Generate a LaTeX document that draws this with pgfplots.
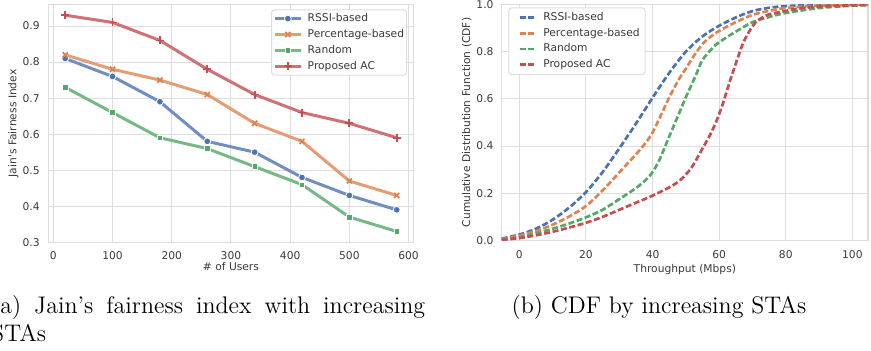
\documentclass[border=0pt]{standalone}
\usepackage{fontspec}
\newfontfamily\dejavu{DejaVu Sans}
\usepackage{pgfplots}
\pgfplotsset{compat=1.18}
\definecolor{cblue}{HTML}{4C72B0}
\definecolor{corange}{HTML}{DD8452}
\definecolor{cgreen}{HTML}{55A868}
\definecolor{cred}{HTML}{C44E52}
\definecolor{gridc}{HTML}{DDDDDD}
\definecolor{txt}{HTML}{3A3A3A}
\newcommand\pf{\dejavu\fontsize{5.35}{6.4}\selectfont}
\pgfplotsset{
  sb/.style={
    scale only axis,
    axis line style={gridc, line width=0.6pt},
    grid=major, major grid style={gridc, line width=0.5pt},
    major tick length=0pt, tick style={draw=none},
    tick label style={font=\pf, text=txt, inner sep=0pt},
    /pgf/number format/assume math mode=true,
    clip=true,
  }
}
\begin{document}
\begin{tikzpicture}
\path[use as bounding box] (0,0) rectangle (435.5pt,175.5pt);
% ---------------- left plot
\begin{axis}[sb,
  at={(24.3pt,54.35pt)}, anchor=south west,
  width=182.35pt, height=118.95pt,
  xmin=-8, xmax=608, ymin=0.30, ymax=0.96,
  xtick={0,100,200,300,400,500,600},
  ytick={0.3,0.4,0.5,0.6,0.7,0.8,0.9},
  yticklabel style={anchor=east, xshift=-4.3pt, /pgf/number format/.cd, fixed, fixed zerofill, precision=1},
  xticklabel style={anchor=north, yshift=-4.4pt},
  every axis x label/.style={at={([yshift=-12.2pt]axis description cs:0.5,0)}, anchor=center, font=\pf, text=txt},
  every axis y label/.style={at={([xshift=-17.65pt]axis description cs:0,0.5)}, rotate=90, anchor=center, font=\pf, text=txt},
  xlabel={\# of Users},
  ylabel={Jain\textquotesingle s Fairness Index},
  legend image code/.code={\draw[sharp corners,mark repeat=2,mark phase=2,#1] plot coordinates {(0pt,0pt) (6.5pt,0pt) (13pt,0pt)};},
  legend style={font=\pf, text=txt, draw=gridc, line width=0.5pt, fill=white, rounded corners=1.5pt,
    at={(1,1)}, anchor=north east, xshift=-3.15pt, yshift=-2.45pt,
    inner xsep=0.9pt, inner ysep=0.45pt, row sep=0pt,
    nodes={inner xsep=0.3pt, inner ysep=1.27pt, text height=4.2pt, text depth=1.2pt, anchor=west},
    /tikz/every odd column/.append style={column sep=2.4pt}},
  legend cell align=left,
]
\addplot[color=cblue!80!white, line width=1.5pt, mark=*, mark size=1.7pt, mark options={fill=cblue, draw=white, line width=0.4pt}]
  coordinates {(20,0.81) (100,0.76) (180,0.69) (260,0.58) (340,0.55) (420,0.48) (500,0.43) (580,0.39)};
\addlegendentry{RSSI-based}
\addplot[color=corange!80!white, line width=1.5pt, mark=x, mark size=1.8pt, mark options={draw=corange, line width=0.9pt}]
  coordinates {(20,0.82) (100,0.78) (180,0.75) (260,0.71) (340,0.63) (420,0.58) (500,0.47) (580,0.43)};
\addlegendentry{Percentage-based}
\addplot[color=cgreen!80!white, line width=1.5pt, mark=square*, mark size=1.4pt, mark options={fill=cgreen, draw=white, line width=0.3pt}]
  coordinates {(20,0.73) (100,0.66) (180,0.59) (260,0.56) (340,0.51) (420,0.46) (500,0.37) (580,0.33)};
\addlegendentry{Random}
\addplot[color=cred!80!white, line width=1.5pt, mark=+, mark size=2pt, mark options={draw=cred, line width=0.9pt}]
  coordinates {(20,0.93) (100,0.91) (180,0.86) (260,0.78) (340,0.71) (420,0.66) (500,0.63) (580,0.59)};
\addlegendentry{Proposed AC}
\end{axis}
% ---------------- right plot
\begin{axis}[sb,
  at={(250.85pt,55.25pt)}, anchor=south west,
  width=183.15pt, height=118pt,
  xmin=-5.3, xmax=104.7, ymin=0, ymax=1.0,
  xtick={0,20,40,60,80,100},
  ytick={0,0.2,0.4,0.6,0.8,1.0},
  yticklabel style={anchor=east, xshift=-3.9pt, /pgf/number format/.cd, fixed, fixed zerofill, precision=1},
  xticklabel style={anchor=north, yshift=-5pt},
  every axis x label/.style={at={([yshift=-14.6pt]axis description cs:0.5,0)}, anchor=center, font=\pf, text=txt},
  every axis y label/.style={at={([xshift=-17.5pt]axis description cs:0,0.5)}, rotate=90, anchor=center, font=\pf, text=txt},
  xlabel={Throughput (Mbps)},
  ylabel={Cumulative Distribution Function (CDF)},
  legend image code/.code={\path (0pt,0pt); \draw[sharp corners,#1] (2.3pt,0pt) -- (9.6pt,0pt);},
  legend style={font=\pf, text=txt, draw=gridc, line width=0.5pt, fill=white, rounded corners=1.5pt,
    at={(0,1)}, anchor=north west, xshift=3.3pt, yshift=-1.4pt,
    inner xsep=2.4pt, inner ysep=1.1pt, row sep=0pt,
    nodes={inner xsep=0.3pt, inner ysep=1.2pt, text height=4.2pt, text depth=1.2pt, anchor=west},
    /tikz/every odd column/.append style={column sep=3.6pt}},
  legend cell align=left,
]
\addplot[color=cblue, line width=1.35pt, dash pattern=on 3pt off 1.3pt, smooth]
  coordinates {(-5.3,0.008) (0,0.025) (5,0.05) (10,0.088) (15,0.14) (20,0.205) (25,0.29) (30,0.39) (35,0.495) (40,0.605) (45,0.71) (50,0.80) (55,0.865) (60,0.91) (65,0.945) (70,0.972) (75,0.986) (80,0.993) (90,0.998) (104.7,1.0)};
\addlegendentry{RSSI-based}
\addplot[color=corange, line width=1.35pt, dash pattern=on 3pt off 1.3pt, smooth]
  coordinates {(-5.3,0.006) (0,0.02) (5,0.04) (10,0.067) (15,0.102) (20,0.146) (25,0.212) (30,0.288) (35,0.365) (38,0.415) (40,0.458) (42.5,0.53) (45,0.606) (48,0.685) (50,0.728) (53,0.795) (56,0.847) (60,0.888) (65,0.925) (70,0.956) (75,0.973) (80,0.985) (90,0.995) (104.7,0.999)};
\addlegendentry{Percentage-based}
\addplot[color=cgreen, line width=1.35pt, dash pattern=on 3pt off 1.3pt, smooth]
  coordinates {(-5.3,0.004) (0,0.014) (5,0.03) (10,0.05) (15,0.072) (20,0.098) (25,0.13) (30,0.175) (35,0.222) (38,0.257) (40,0.29) (42,0.34) (45,0.44) (48,0.54) (50,0.607) (53,0.70) (55,0.765) (58,0.815) (60,0.84) (65,0.885) (70,0.925) (75,0.947) (80,0.964) (90,0.985) (100,0.995) (104.7,0.997)};
\addlegendentry{Random}
\addplot[color=cred, line width=1.35pt, dash pattern=on 3pt off 1.3pt, smooth]
  coordinates {(-5.3,0.003) (0,0.01) (5,0.022) (10,0.037) (15,0.055) (20,0.075) (25,0.10) (30,0.13) (35,0.16) (40,0.19) (45,0.225) (48,0.252) (50,0.28) (52,0.315) (55,0.39) (57,0.44) (59,0.50) (61,0.575) (63,0.665) (65,0.75) (67,0.83) (69,0.885) (71,0.925) (73,0.945) (75,0.958) (80,0.973) (85,0.985) (90,0.991) (100,0.997) (104.7,0.998)};
\addlegendentry{Proposed AC}
\end{axis}
% ---------------- captions
\node[anchor=base west, inner sep=0pt] at (-4.6pt,18.5pt)
  {\parbox[t]{217pt}{\fontsize{12}{14}\selectfont (a) Jain's fairness index with increasing\linebreak STAs}};
\node[anchor=base, inner sep=0pt] at (329.5pt,18.5pt)
  {\fontsize{12}{14}\selectfont (b) CDF by increasing STAs};
\end{tikzpicture}
\end{document}
